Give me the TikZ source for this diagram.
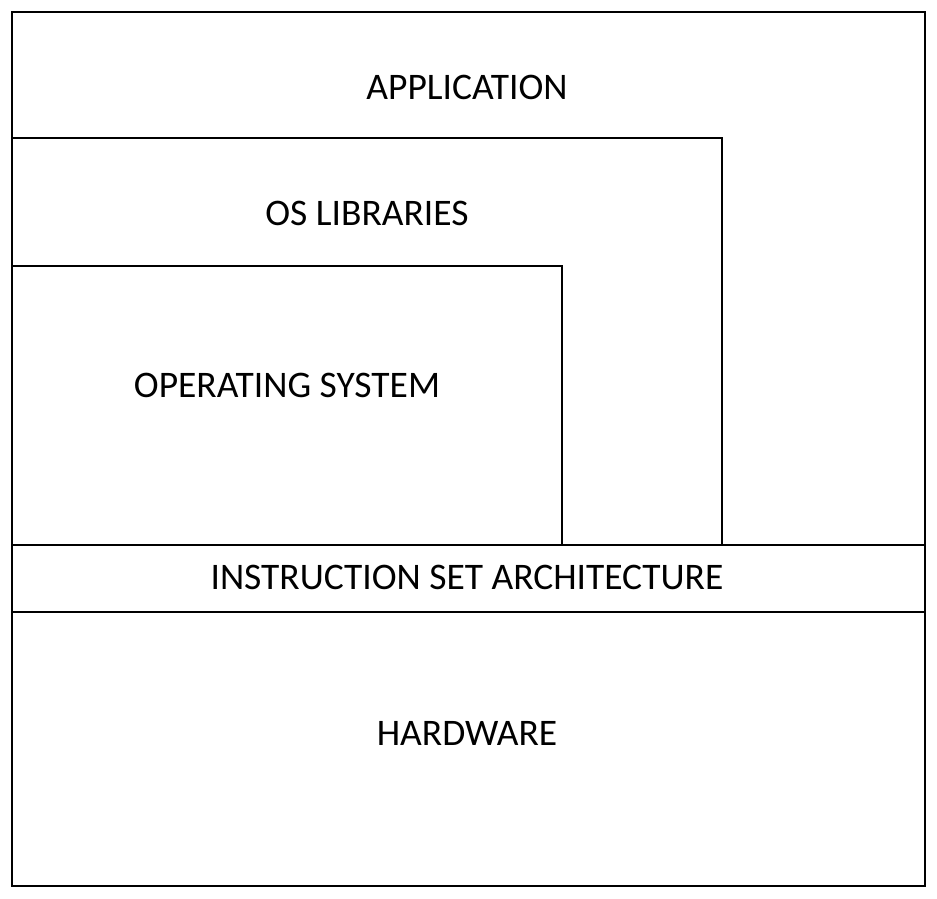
\documentclass[tikz,border=0pt]{standalone}
\usepackage{fontspec}
\setmainfont{Carlito}
\begin{document}
\begin{tikzpicture}[x=1pt,y=-1pt,
  layer/.style={draw=black,line width=1.6pt},
  lbl/.style={font=\fontsize{37.5}{44}\selectfont,inner sep=0pt}]
\useasboundingbox[fill=white] (0,0) rectangle (937,899);
\draw[layer] (12,12) rectangle (925,886);
\draw[layer] (12,138) -- (722,138) -- (722,545);
\draw[layer] (12,266) -- (562,266) -- (562,545);
\draw[layer] (12,545) -- (925,545);
\draw[layer] (12,612) -- (925,612);
\node[lbl] (app) at (467,87) {APPLICATION};
\node[lbl] (lib) at (367,213) {OS LIBRARIES};
\node[lbl] (os) at (287,385) {OPERATING SYSTEM};
\node[lbl] (isa) at (467,577) {INSTRUCTION SET ARCHITECTURE};
\node[lbl] (hw) at (467,733) {HARDWARE};
\end{tikzpicture}
\end{document}
